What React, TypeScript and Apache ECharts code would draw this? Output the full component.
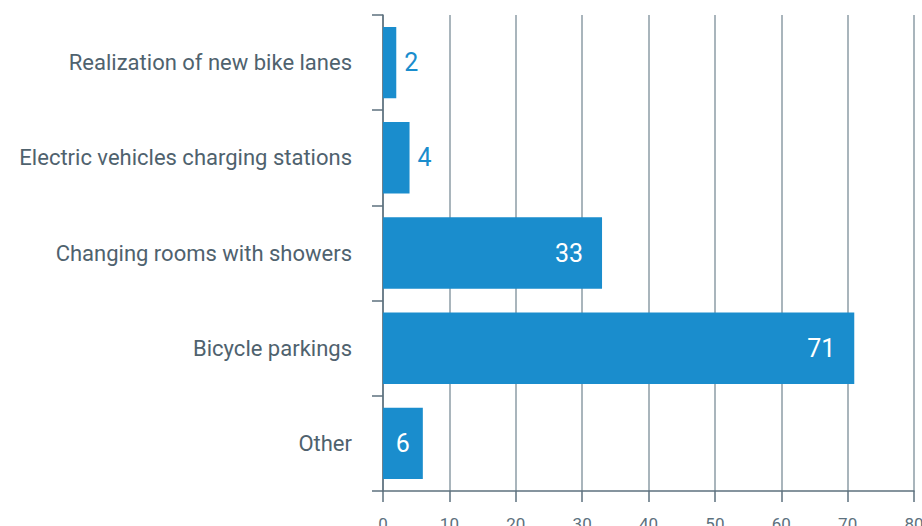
import React, { useEffect, useRef } from "react";
import * as echarts from "echarts";

const categories = [
  "Realization of new bike lanes",
  "Electric vehicles charging stations",
  "Changing rooms with showers",
  "Bicycle parkings",
  "Other",
];
const values = [2, 4, 33, 71, 6];
const insideLabel = [false, false, true, true, true];

const BLUE = "#1a8dcd";

export default function App() {
  const ref = useRef<HTMLDivElement>(null);
  useEffect(() => {
    if (!ref.current) return;
    const chart = echarts.init(ref.current, null, { renderer: "svg" });
    chart.setOption({
      animation: false,
      grid: {
        left: 383,
        right: 8,
        top: 15,
        bottom: 35,
        containLabel: false,
        outerBoundsMode: "none",
      },
      xAxis: {
        type: "value",
        min: 0,
        max: 80,
        interval: 10,
        axisLine: { show: true, lineStyle: { color: "#5d717e", width: 1.5 } },
        axisTick: { show: true, length: 11, lineStyle: { color: "#5d717e", width: 1.5 } },
        splitLine: { show: true, lineStyle: { color: "#8d9ca6", width: 1.5 } },
        axisLabel: {
          color: "#5d717e",
          fontSize: 17,
          margin: 24,
          fontFamily: "Roboto",
        },
      },
      yAxis: {
        type: "category",
        data: categories,
        inverse: true,
        axisLine: { show: true, lineStyle: { color: "#5d717e", width: 1.5 } },
        axisTick: { show: true, length: 11, lineStyle: { color: "#5d717e", width: 1.5 } },
        axisLabel: {
          color: "#4f626e",
          fontSize: 22,
          margin: 31,
          fontFamily: "Roboto",
        },
      },
      series: [
        {
          type: "bar",
          barCategoryGap: "25%",
          itemStyle: { color: BLUE },
          data: values.map((v, i) => ({
            value: v,
            label: insideLabel[i]
              ? {
                  show: true,
                  position: "insideRight",
                  distance: v < 10 ? 13 : 19,
                  color: "#ffffff",
                  fontSize: 25,
                  fontFamily: "Roboto",
                }
              : {
                  show: true,
                  position: "right",
                  distance: 8,
                  color: BLUE,
                  fontSize: 25,
                  fontFamily: "Roboto",
                },
          })),
        },
      ],
    });
    return () => chart.dispose();
  }, []);
  return (
    <div
      ref={ref}
      style={{ position: "absolute", left: 0, top: 0, width: 922, height: 526 }}
    />
  );
}
